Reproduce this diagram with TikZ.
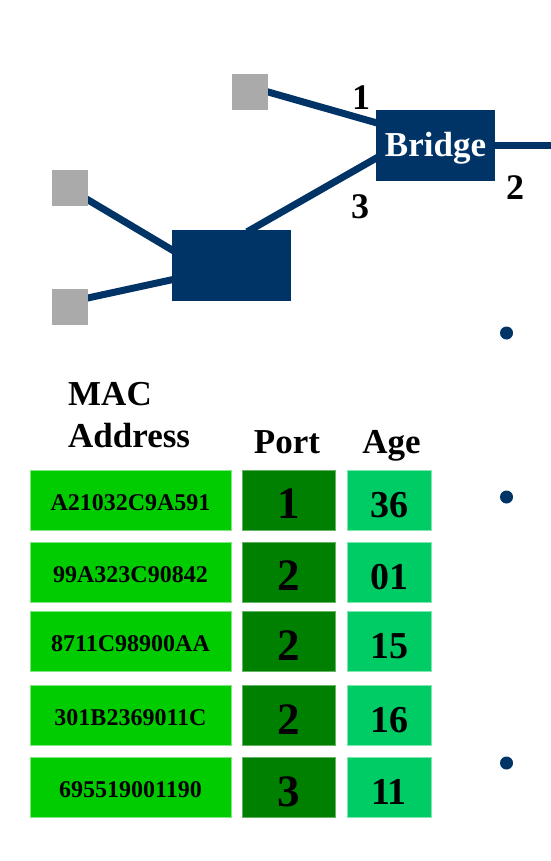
\documentclass[tikz,border=0pt]{standalone}
\usepackage{fontspec}
\setmainfont{Liberation Serif}
\usepackage{tikz}
\usetikzlibrary{calc,backgrounds}
\definecolor{netBlue}{RGB}{0,51,102}
\definecolor{hostGray}{RGB}{170,170,170}
\definecolor{macGreen}{RGB}{0,204,0}
\definecolor{portGreen}{RGB}{0,128,0}
\definecolor{ageGreen}{RGB}{0,204,102}

\begin{document}
\begin{tikzpicture}[x=1pt,y=-1pt,line cap=butt,
  host/.style={fill=hostGray,inner sep=0pt,minimum width=36pt,minimum height=36pt},
  dev/.style={fill=netBlue,inner sep=0pt,minimum width=119pt,minimum height=71pt},
  cable/.style={netBlue,line width=7pt},
  link/.style={cable,shorten <=-4pt,shorten >=-4pt},
  portlbl/.style={font=\fontsize{36pt}{43pt}\selectfont\bfseries,inner sep=0pt,anchor=base},
  head/.style={font=\fontsize{35pt}{42pt}\selectfont\bfseries,inner sep=0pt},
  cell/.style={inner sep=0pt,minimum height=60pt,line width=1pt,text depth=0pt},
  maccell/.style={cell,fill=macGreen,draw=macGreen!50!white,minimum width=201pt,
    text height=20pt,font=\fontsize{24pt}{29pt}\selectfont\bfseries},
  portcell/.style={cell,fill=portGreen,draw=portGreen!60!white,minimum width=93pt,
    text height=37pt,font=\fontsize{45pt}{54pt}\selectfont\bfseries},
  agecell/.style={cell,fill=ageGreen,draw=ageGreen!50!white,minimum width=84pt,
    text height=34pt,font=\fontsize{38pt}{46pt}\selectfont\bfseries}]
  \useasboundingbox (0,0) rectangle (550,861);
  % hosts, hub and bridge
  \node[host] (hostA) at (250,92) {};
  \node[host] (hostB) at (70,188) {};
  \node[host] (hostC) at (70,307) {};
  \node[dev] (hub) at (231.5,265.5) {};
  \node[dev,text=white,text height=23pt,text depth=0pt,
    font=\fontsize{35pt}{42pt}\selectfont\bfseries] (bridge) at (435.5,145.5) {Bridge};
  \coordinate (lanR) at (552,145.5);
  % cables, behind the boxes
  \begin{scope}[on background layer]
    \fill[white] (0,0) rectangle (550,861);
    \draw[link] (hostA.east) -- ($(bridge.north west)!0.18!(bridge.south west)$);
    \draw[link] ($(bridge.north west)!0.68!(bridge.south west)$) -- ($(hub.north west)!0.66!(hub.north east)$);
    \draw[link] ($(hostB.north east)!0.83!(hostB.south east)$) -- ($(hub.north west)!0.28!(hub.south west)$);
    \draw[link] ($(hostC.north east)!0.25!(hostC.south east)$) -- ($(hub.north west)!0.7!(hub.south west)$);
  \end{scope}
  \draw[cable] (bridge.east) -- (lanR);
  % port numbers
  \node[portlbl] (p1) at (361,110) {1};
  \node[portlbl] (p3) at (360,218) {3};
  \node[portlbl] (p2) at (515,200) {2};
  % bullets on the right
  \foreach \y in {333,497,763}
    \fill[netBlue] (506.5,\y) circle (6.5pt);
  % forwarding table
  \node[head,align=left,anchor=base west] (hdMac) at (68,447) {MAC\\Address};
  \node[head,anchor=base] (hdPort) at (287,453) {Port};
  \node[head,anchor=base] (hdAge) at (391.5,453) {Age};
  \foreach \mac/\port/\age/\y [count=\i] in {A21032C9A591/1/36/500,
      99A323C90842/2/01/572, 8711C98900AA/2/15/641.5,
      301B2369011C/2/16/715.5, 695519001190/3/11/787.5} {
    \node[maccell] (mac\i) at (130.5,\y) {\mac};
    \node[portcell] (port\i) at (288.5,\y) {\port};
    \node[agecell] (age\i) at (389,\y) {\age};
  }
\end{tikzpicture}
\end{document}
